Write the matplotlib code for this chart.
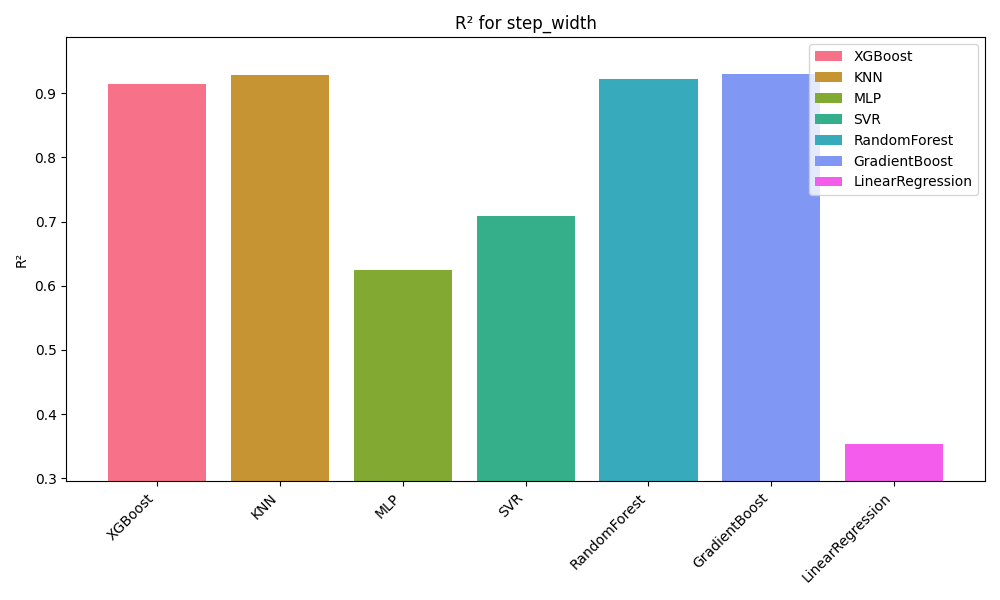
import matplotlib
matplotlib.use("Agg")
import matplotlib.pyplot as plt
import seaborn as sns

models = ["XGBoost", "KNN", "MLP", "SVR", "RandomForest", "GradientBoost", "LinearRegression"]
r2 = [0.914, 0.928, 0.625, 0.709, 0.922, 0.930, 0.353]

colors = sns.color_palette("husl", len(models))

fig, ax = plt.subplots(figsize=(10, 6), dpi=100)
for i, (m, v) in enumerate(zip(models, r2)):
    ax.bar(m, v, color=colors[i], label=m)
ax.set_ylim(0.2953, 0.987)
ax.set_title("R² for step_width")
ax.set_ylabel("R²")
plt.setp(ax.get_xticklabels(), rotation=45, ha="right")
ax.legend(loc="upper right")
fig.tight_layout()
fig.savefig("out.png")
